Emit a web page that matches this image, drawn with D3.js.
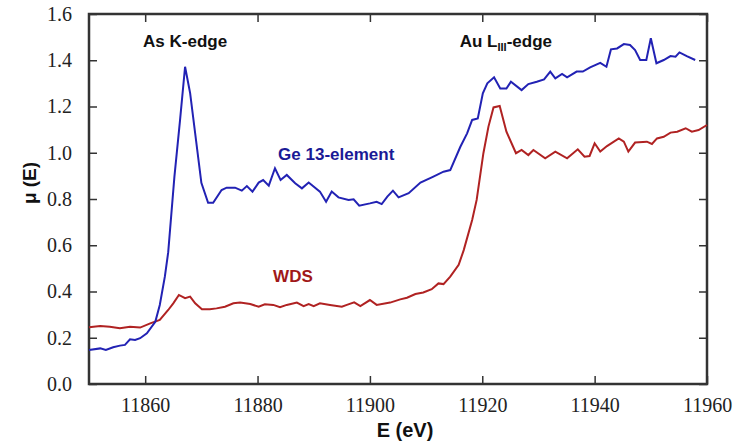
<!DOCTYPE html>
<html>
<head>
<meta charset="utf-8">
<script src="https://cdn.jsdelivr.net/npm/d3@7"></script>
<style>
  body { margin: 0; background: #fff; }
  svg .tick text { font-family: "Liberation Serif", serif !important; font-size: 20px !important; }
</style>
</head>
<body>
<div id="chart"></div>
<script>
// energies (eV) and absorption
var geE = [11850,11852,11853,11854.3,11855.5,11856.4,11857.3,11858.2,11859.1,11860.3,11861.8,11862.6,11863.5,11864.1,11865.2,11866.2,11867.1,11868,11870,11871.2,11872.1,11873.6,11874.5,11876,11877.2,11878.1,11879.1,11880.2,11881,11882,11883.1,11884.1,11885.2,11886.7,11887.9,11889.1,11891.1,11892.2,11893.2,11894.4,11896.2,11897.1,11898.1,11900,11901.2,11902.1,11903.1,11904.1,11905.1,11906.9,11909,11911.3,11913.1,11914.3,11916.1,11917.3,11918.2,11919.2,11920.1,11920.9,11922.1,11923.2,11924.3,11925.1,11927,11928.2,11929.7,11931,11932.1,11933,11934.2,11935.1,11936.8,11937.9,11939.2,11941,11942.1,11942.9,11944,11945.2,11946.3,11947.2,11948.1,11949.2,11950,11951,11952.3,11953.5,11954.4,11955.1,11956.4,11957.9];
var geMu = [0.147,0.154,0.147,0.159,0.166,0.169,0.193,0.19,0.198,0.219,0.269,0.342,0.464,0.57,0.896,1.14,1.372,1.258,0.87,0.784,0.784,0.839,0.849,0.849,0.836,0.856,0.832,0.871,0.882,0.858,0.933,0.882,0.904,0.868,0.846,0.871,0.832,0.788,0.832,0.807,0.796,0.799,0.771,0.781,0.788,0.778,0.81,0.836,0.807,0.825,0.871,0.897,0.918,0.925,1.026,1.084,1.142,1.148,1.257,1.3,1.326,1.278,1.278,1.307,1.271,1.297,1.307,1.317,1.351,1.322,1.341,1.326,1.351,1.351,1.369,1.389,1.372,1.447,1.451,1.47,1.466,1.444,1.401,1.401,1.495,1.387,1.401,1.418,1.415,1.434,1.418,1.401];

var wdsE = [11850,11852,11853.7,11855.5,11857.3,11859.1,11860.9,11862.6,11864.1,11865,11866,11867.1,11868,11868.9,11870.1,11871.5,11872.7,11874.2,11875.7,11876.9,11878.7,11880.2,11881.3,11882.8,11884,11885.2,11887,11888.2,11889.1,11890,11891.1,11892.9,11895,11895.9,11897.2,11898.3,11900,11901.2,11903.6,11905.4,11906.6,11908.1,11909.5,11911,11912.2,11913.1,11914.3,11915.8,11916.7,11918.2,11919,11920.2,11921.1,11922,11923.1,11924.3,11926,11927,11928.2,11929.1,11931.2,11933,11935.1,11937,11938.2,11939.1,11940,11941,11942.2,11944.3,11945.2,11946,11947.2,11949.3,11950.2,11951.1,11952.3,11953.5,11954.7,11956.2,11957.3,11958.5,11960];
var wdsMu = [0.245,0.251,0.248,0.241,0.248,0.244,0.262,0.277,0.32,0.349,0.385,0.371,0.378,0.349,0.323,0.323,0.327,0.334,0.349,0.352,0.346,0.334,0.345,0.342,0.332,0.342,0.352,0.337,0.346,0.337,0.349,0.342,0.334,0.342,0.353,0.337,0.363,0.342,0.352,0.366,0.373,0.389,0.396,0.41,0.435,0.432,0.464,0.515,0.579,0.709,0.796,0.998,1.113,1.196,1.202,1.091,0.998,1.012,0.99,1.012,0.976,1.005,0.976,1.015,0.983,0.986,1.041,1.005,1.029,1.062,1.048,1.005,1.044,1.048,1.038,1.062,1.069,1.087,1.091,1.106,1.091,1.098,1.12];

var xTicks = [11860, 11880, 11900, 11920, 11940, 11960];
var yTicks = [0.0, 0.2, 0.4, 0.6, 0.8, 1.0, 1.2, 1.4, 1.6];

var margin = {top: 14, right: 42, bottom: 61, left: 89},
    width = 749 - margin.left - margin.right,
    height = 445 - margin.top - margin.bottom;

var svg = d3.select("#chart")
  .append("svg")
    .attr("width", 749)
    .attr("height", 445)
  .append("g")
    .attr("transform", "translate(" + margin.left + "," + margin.top + ")");

var x = d3.scaleLinear().domain([11850, 11960]).range([0, width]);
var y = d3.scaleLinear().domain([0, 1.6]).range([height, 0]);

// axes: ticks point inward on all four sides
function styleAxis(g) {
  g.attr("font-family", "Liberation Serif").attr("font-size", 20);
  g.select(".domain").remove();
  g.selectAll(".tick line").attr("stroke", "#333").attr("stroke-width", 1.5);
  g.selectAll(".tick text").attr("fill", "#222");
}

svg.append("g")
  .attr("transform", "translate(0," + height + ")")
  .call(d3.axisBottom(x).tickValues(xTicks).tickFormat(d3.format("d")).tickSizeInner(-8).tickPadding(14))
  .call(styleAxis);
svg.append("g")
  .call(d3.axisTop(x).tickValues(xTicks).tickSizeInner(-8).tickFormat(""))
  .call(styleAxis);
svg.append("g")
  .call(d3.axisLeft(y).tickValues(yTicks).tickFormat(d3.format(".1f")).tickSizeInner(-8).tickPadding(17))
  .call(styleAxis);
svg.append("g")
  .attr("transform", "translate(" + width + ",0)")
  .call(d3.axisRight(y).tickValues(yTicks).tickSizeInner(-8).tickFormat(""))
  .call(styleAxis);

// frame
svg.append("rect")
  .attr("width", width)
  .attr("height", height)
  .attr("fill", "none")
  .attr("stroke", "#333")
  .attr("stroke-width", 2.5);

var line = d3.line()
  .x(function(d) { return x(d[0]); })
  .y(function(d) { return y(d[1]); });

svg.append("path")
  .datum(wdsE.map(function(e, i) { return [e, wdsMu[i]]; }))
  .attr("d", line)
  .attr("fill", "none")
  .attr("stroke", "#b02222")
  .attr("stroke-width", 2);

svg.append("path")
  .datum(geE.map(function(e, i) { return [e, geMu[i]]; }))
  .attr("d", line)
  .attr("fill", "none")
  .attr("stroke", "#2222b4")
  .attr("stroke-width", 2);

// labels
var sans = "'Liberation Sans', Arial, sans-serif";

svg.append("text")
  .attr("x", x(11867.1)).attr("y", y(1.456))
  .attr("text-anchor", "middle")
  .style("font-family", sans).style("font-weight", "bold").style("font-size", "17px")
  .attr("fill", "#111")
  .text("As K-edge");

var au = svg.append("text")
  .attr("x", x(11924.2)).attr("y", y(1.458))
  .attr("text-anchor", "middle")
  .style("font-family", sans).style("font-weight", "bold").style("font-size", "17px")
  .attr("fill", "#111");
au.append("tspan").text("Au L");
au.append("tspan").attr("dy", 4).style("font-size", "11px").text("III");
au.append("tspan").attr("dy", -4).text("-edge");

svg.append("text")
  .attr("x", x(11894)).attr("y", y(0.968))
  .attr("text-anchor", "middle")
  .style("font-family", sans).style("font-weight", "bold").style("font-size", "17px")
  .attr("fill", "#1a1a96")
  .text("Ge 13-element");

svg.append("text")
  .attr("x", x(11886.3)).attr("y", y(0.443))
  .attr("text-anchor", "middle")
  .style("font-family", sans).style("font-weight", "bold").style("font-size", "17px")
  .attr("fill", "#a01818")
  .text("WDS");

// axis titles
svg.append("text")
  .attr("x", width / 2 + 7).attr("y", height + 53)
  .attr("text-anchor", "middle")
  .style("font-family", sans).style("font-weight", "bold").style("font-size", "20px")
  .attr("fill", "#111")
  .text("E (eV)");

svg.append("text")
  .attr("transform", "translate(" + (-53) + "," + (183 - margin.top) + ") rotate(-90)")
  .attr("text-anchor", "middle")
  .style("font-family", sans).style("font-weight", "bold").style("font-size", "19px")
  .attr("fill", "#111")
  .text("\u03bc (E)");
</script>
</body>
</html>
